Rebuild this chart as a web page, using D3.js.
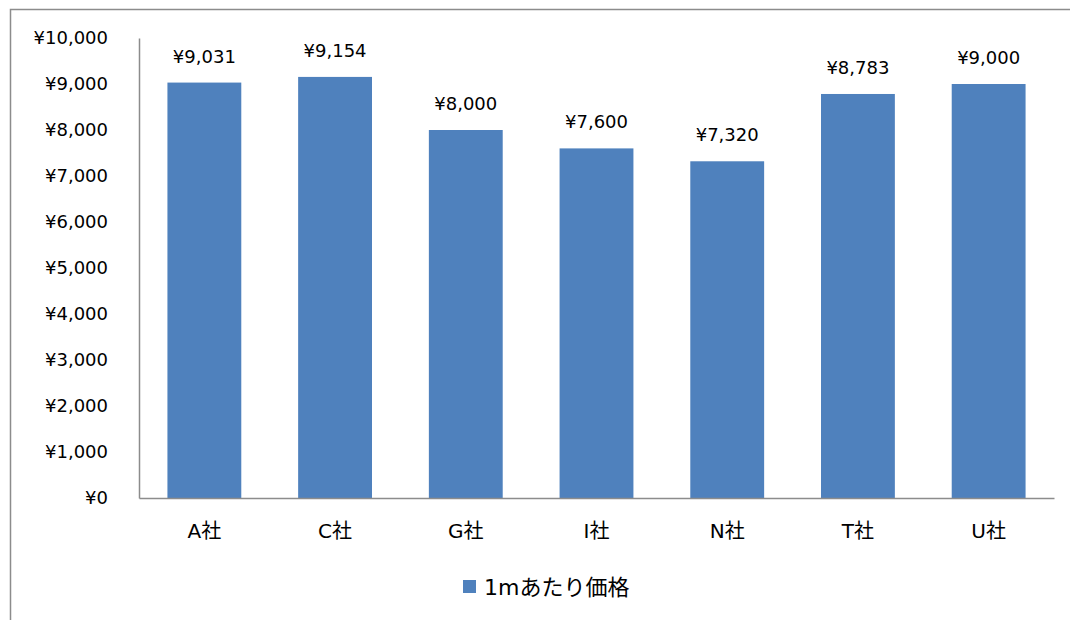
<!DOCTYPE html>
<html>
<head>
<meta charset="utf-8">
<script src="https://cdn.jsdelivr.net/npm/d3@7"></script>
<style>
  body { margin: 0; background: #fff; }
  text { font-family: "DejaVu Sans", "Noto Sans CJK JP", sans-serif; fill: #000; }
</style>
</head>
<body>
<div id="chart"></div>
<script>
// data
const companies = ['A社', 'C社', 'G社', 'I社', 'N社', 'T社', 'U社'];
const prices = [9031, 9154, 8000, 7600, 7320, 8783, 9000];
const yTicks = [0, 1000, 2000, 3000, 4000, 5000, 6000, 7000, 8000, 9000, 10000];
const seriesName = '1mあたり価格';

const width = 1070, height = 620;
const margin = {top: 38, right: 16, bottom: 122, left: 139};
const barColor = '#4F81BD';

const svg = d3.select('#chart').append('svg')
    .attr('width', width)
    .attr('height', height);

// outer chart border
svg.append('rect')
    .attr('x', 10.5).attr('y', 9.5)
    .attr('width', width).attr('height', height)
    .attr('fill', 'none')
    .attr('stroke', '#8c8c8c')
    .attr('stroke-width', 1.5);

const innerW = width - margin.left - margin.right;
const innerH = height - margin.top - margin.bottom;

const xScale = d3.scaleBand()
    .domain(companies)
    .range([0, innerW])
    .paddingInner(0.435)
    .paddingOuter(0.2175);
const yScale = d3.scaleLinear()
    .domain([0, 10000])
    .range([innerH, 0]);

const fmt = v => '¥' + d3.format(',')(v);

const g = svg.append('g')
    .attr('transform', `translate(${margin.left},${margin.top})`);

// y axis
const yAxis = d3.axisLeft(yScale)
    .tickValues(yTicks)
    .tickFormat(fmt)
    .tickSize(0)
    .tickPadding(31);
const yAxisG = g.append('g').call(yAxis);
yAxisG.select('.domain').attr('stroke', '#8c8c8c').attr('stroke-width', 1.5);
yAxisG.selectAll('text').attr('font-size', 18);

// bars
g.selectAll('rect.bar').data(companies)
    .join('rect')
    .attr('class', 'bar')
    .attr('x', d => xScale(d))
    .attr('y', (d, i) => yScale(prices[i]))
    .attr('width', xScale.bandwidth())
    .attr('height', (d, i) => innerH - yScale(prices[i]))
    .attr('fill', barColor);

// value labels
g.selectAll('text.val').data(companies)
    .join('text')
    .attr('class', 'val')
    .attr('x', d => xScale(d) + xScale.bandwidth() / 2)
    .attr('y', (d, i) => yScale(prices[i]) - 20)
    .attr('text-anchor', 'middle')
    .attr('font-size', 18)
    .text((d, i) => fmt(prices[i]));

// x axis
const xAxis = d3.axisBottom(xScale).tickSize(0).tickPadding(26);
const xAxisG = g.append('g')
    .attr('transform', `translate(0,${innerH})`)
    .call(xAxis);
xAxisG.select('.domain').attr('stroke', '#8c8c8c').attr('stroke-width', 1.5);
xAxisG.selectAll('text').attr('font-size', 20);

// legend
const legend = svg.append('g').attr('transform', 'translate(463,580)');
legend.append('rect')
    .attr('width', 13).attr('height', 13)
    .attr('fill', barColor);
legend.append('text')
    .attr('x', 21).attr('y', 15)
    .attr('font-size', 22)
    .text(seriesName);
</script>
</body>
</html>
